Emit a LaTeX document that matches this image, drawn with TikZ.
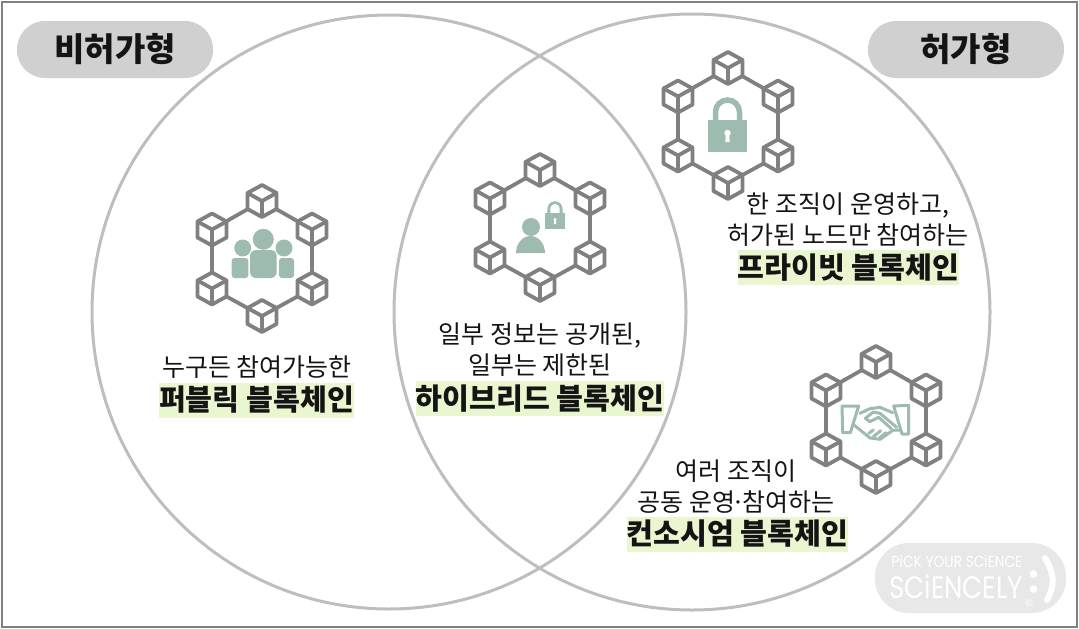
\documentclass[tikz,border=0pt]{standalone}
\usepackage{fontspec}
\setmainfont{Noto Sans CJK KR}
\newfontfamily\logofont{Poppins}
\usepackage{tikz}
\definecolor{ink}{RGB}{20,20,20}
\definecolor{frameline}{RGB}{128,128,128}
\definecolor{ringline}{RGB}{190,190,190}
\definecolor{pill}{RGB}{208,208,208}
\definecolor{cube}{RGB}{128,128,128}
\definecolor{sage}{RGB}{158,187,175}
\definecolor{marker}{RGB}{233,246,208}
\definecolor{logofill}{RGB}{232,232,232}

% one cube of the chain
\newcommand{\cubenode}[2]{%
  \fill[white] #1 ++(0,-16) -- ++(14.5,8) -- ++(0,16) -- ++(-14.5,8) -- ++(-14.5,-8) -- ++(0,-16) -- cycle;
  \draw[link] #1 ++(0,-16) -- ++(14.5,8) -- ++(0,16) -- ++(-14.5,8) -- ++(-14.5,-8) -- ++(0,-16) -- cycle;
  \draw[link] #1 ++(-14.5,-8) -- ++(14.5,8) -- ++(14.5,-8) #1 -- ++(0,16);
  \coordinate (#2) at #1;}

% six cubes round a centre
\newcommand{\blockring}[2]{%
  \coordinate (#2) at #1;
  \coordinate (#2a) at ($(#2)+(0,-57.5)$);
  \coordinate (#2b) at ($(#2)+(50,-29)$);
  \coordinate (#2c) at ($(#2)+(50,30)$);
  \coordinate (#2d) at ($(#2)+(0,57.5)$);
  \coordinate (#2e) at ($(#2)+(-50,30)$);
  \coordinate (#2f) at ($(#2)+(-50,-29)$);
  \draw[link] (#2a) -- (#2b) -- (#2c) -- (#2d) -- (#2e) -- (#2f) -- cycle;
  \foreach \k in {a,b,c,d,e,f} {\cubenode{(#2\k)}{#2\k}}}

% padlock, #1 the centre of its body, #2 the scale
\newcommand{\lockicon}[2]{%
  \begin{scope}[shift={#1}, scale=#2]
    \draw[sage, line width=#2*5.5pt] (-12,-15) -- (-12,-24) arc[start angle=180, end angle=0, x radius=12, y radius=-12] -- (12,-15);
    \fill[sage] (-19.5,-16) rectangle (19.5,16);
    \fill[white] (0,-3) circle (3.2);
    \fill[white] (-1.6,-2) -- (1.6,-2) -- (2.2,6) -- (-2.2,6) -- cycle;
  \end{scope}}

\usetikzlibrary{calc}

\begin{document}
\begin{tikzpicture}[x=1pt, y=-1pt]
  \tikzset{
    link/.style={draw=cube, line width=3.8pt, line join=round},
    venn/.style={draw=ringline, line width=3pt},
    heading/.style={fill=pill, rounded corners=28pt, minimum width=196pt, minimum height=57pt, inner sep=0pt,
      text=ink, font=\fontsize{33}{36}\selectfont\bfseries},
    lbl/.style={text=ink, align=center, inner sep=0pt, font=\fontsize{25}{31}\selectfont},
    chainname/.style={fill=marker, text=ink, inner sep=0pt, minimum height=35pt,
      font=\fontsize{29.2}{32}\selectfont\bfseries},
    hand/.style={draw=sage, line width=3pt, line join=round, line cap=round}}

  \useasboundingbox (0,0) rectangle (1079,629);
  \draw[frameline, line width=2pt] (2,2) rectangle (1077,627);

  % --- the two sets
  \draw[venn] (389,312) circle (297);
  \draw[venn] (692,312) circle (298);

  \node[heading] (open) at (115,49.5) {비허가형};
  \node[heading] (closed) at (966,49.5) {허가형};

  % --- public
  \blockring{(262,258.5)}{pub}
  \fill[sage] (242.7,248) circle (8.5);
  \fill[sage] (284,248) circle (8.5);
  \fill[sage, rounded corners=3pt] (231.7,258) -- (231.7,278) -- (248.3,278) -- (248.3,258) -- cycle;
  \fill[sage, rounded corners=3pt] (279,258) -- (279,278) -- (294,278) -- (294,258) -- cycle;
  \fill[sage] (263.3,239.3) circle (10.5);
  \fill[sage, rounded corners=6pt] (250,250) rectangle (276.7,278);
  \node[lbl] (publbl) at (257,367) {누구든 참여가능한};
  \node[chainname, minimum width=195pt] (pubname) at (256.5,400) {퍼블릭 블록체인};

  % --- hybrid
  \blockring{(540,227.5)}{hyb}
  \fill[sage] (531,227) circle (9);
  \fill[sage] (516,253) arc[start angle=180, end angle=0, x radius=14.5, y radius=-17] -- cycle;
  \lockicon{(555,221)}{0.51}
  \node[lbl] (hyblbl) at (540,349.5) {일부 정보는 공개된,\\일부는 제한된};
  \node[chainname, minimum width=248pt] (hybname) at (540,398.5) {하이브리드 블록체인};

  % --- private
  \blockring{(728,125.5)}{pri}
  \lockicon{(727.5,136)}{1}
  \node[lbl] (prilbl) at (848,219.5) {한 조직이 운영하고,\\허가된 노드만 참여하는};
  \node[chainname, minimum width=221pt] (priname) at (848.5,267.5) {프라이빗 블록체인};

  % --- consortium
  \blockring{(876,419.5)}{con}
  \begin{scope}[shift={(876,420)}, x=0.3333pt, y=-0.3333pt]
    \draw[hand] (-102,-42) -- (-52,-42) -- (-77,38) -- (-100,38) -- cycle;
    \draw[hand] (53,-42) -- (98,-44) -- (98,42) -- (78,42) -- cycle;
    \draw[hand] (-48,-20) -- (-18,-34) -- (12,-38) -- (50,-22);
    \draw[hand] (-66,15) -- (-18,54) -- (12,58) -- (52,30) -- (72,30);
    \draw[hand] (-32,-5) -- (-8,-24) -- (12,-20) -- (62,22);
    \draw[hand] (-32,-5) -- (-18,5) -- (8,-8) -- (46,26);
    \draw[hand] (-22,40) -- (-8,30);
    \draw[hand] (-8,50) -- (14,32);
    \draw[hand] (10,54) -- (30,38);
  \end{scope}
  \node[lbl] (conlbl) at (736,486.5) {여러 조직이\\공동 운영\kern-.14em·\kern-.14em참여하는};
  \node[chainname, minimum width=221pt] (conname) at (737.5,534) {컨소시엄 블록체인};

  % --- logo
  \fill[logofill, rounded corners=34pt] (875,543) rectangle (1066,613);
  \node[text=white, inner sep=0pt, xscale=.86, font=\logofont\fontsize{16}{18}\selectfont] (logotop) at (957,561) {PiCK YOUR SCiENCE};
  \node[text=white, inner sep=0pt, xscale=.84, font=\logofont\fontsize{31}{34}\selectfont] (logoname) at (956,587) {SCiENCELY};
  \fill[white] (1033.5,574) circle (3.8);
  \fill[white] (1033.5,589) circle (3.8);
  \draw[white, line width=6pt, line cap=round] (1045,558) .. controls (1055,575) and (1055,585) .. (1047,600);
  \node[text=white, inner sep=0pt, font=\fontsize{10}{10}\selectfont] (logomark) at (1029,603) {©};
\end{tikzpicture}
\end{document}
